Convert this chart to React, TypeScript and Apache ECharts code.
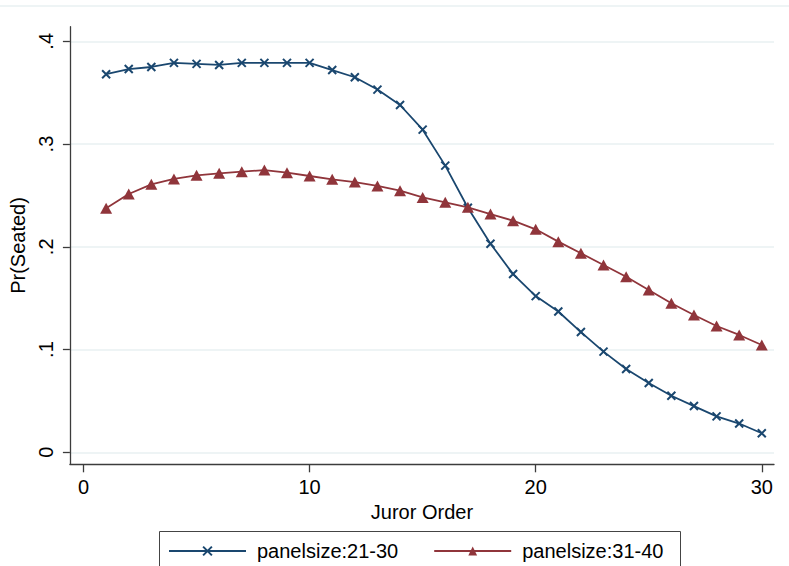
import React, { useEffect, useRef } from "react";
import * as echarts from "echarts";

const jurorOrder = [1, 2, 3, 4, 5, 6, 7, 8, 9, 10, 11, 12, 13, 14, 15, 16, 17, 18, 19, 20, 21, 22, 23, 24, 25, 26, 27, 28, 29, 30];
const panel2130 = [0.368, 0.373, 0.375, 0.379, 0.378, 0.377, 0.379, 0.379, 0.379, 0.379, 0.372, 0.365, 0.353, 0.338, 0.314, 0.279, 0.238, 0.203, 0.1735, 0.152, 0.137, 0.117, 0.098, 0.081, 0.0675, 0.055, 0.045, 0.035, 0.028, 0.0185];
const panel3140 = [0.2375, 0.2514, 0.2608, 0.266, 0.2696, 0.2715, 0.2731, 0.2747, 0.2721, 0.2689, 0.2657, 0.263, 0.2592, 0.2546, 0.248, 0.2433, 0.2384, 0.2319, 0.2254, 0.217, 0.205, 0.1937, 0.1823, 0.1709, 0.158, 0.145, 0.1336, 0.1229, 0.1142, 0.1044];
const xTicks = [0, 10, 20, 30];
const yTicks = [0, 0.1, 0.2, 0.3, 0.4];
const seriesNames = ["panelsize:21-30", "panelsize:31-40"];

const NAVY = "#1a476f";
const MAROON = "#90353b";
const AXIS = "#3c3c3c";
const GRID = "#e8f0f2";
const FONT = "'Liberation Sans', Arial, sans-serif";

const yFmt = (v: number) => {
  if (Math.abs(v) < 1e-9) return "0";
  return "." + Math.round(v * 10);
};

export default function App() {
  const ref = useRef<HTMLDivElement>(null);
  useEffect(() => {
    if (!ref.current) return;
    const chart = echarts.init(ref.current, undefined, { renderer: "svg" });
    const xSym = "path://M0,0L10,10M10,0L0,10";
    chart.setOption({
      animation: false,
      backgroundColor: "#ffffff",
      textStyle: { fontFamily: FONT },
      grid: { left: 65.3, top: 26.7, right: 15, bottom: 101.7, containLabel: false },
      xAxis: {
        type: "value",
        min: -0.602,
        max: 30.54,
        name: "Juror Order",
        nameLocation: "middle",
        nameGap: 33,
        nameTextStyle: { fontSize: 20, color: "#000", fontFamily: FONT },
        axisLine: { show: true, onZero: false, lineStyle: { color: AXIS, width: 1.3 } },
        axisTick: { show: true, customValues: xTicks, length: 8, lineStyle: { color: AXIS, width: 1.3 } },
        axisLabel: { customValues: xTicks, fontSize: 20, color: "#000", margin: 13, fontFamily: FONT },
        splitLine: { show: false },
      },
      yAxis: {
        type: "value",
        min: -0.01168,
        max: 0.4142,
        name: "Pr(Seated)",
        nameLocation: "middle",
        nameGap: 36,
        nameTextStyle: { fontSize: 20, color: "#000", fontFamily: FONT },
        axisLine: { show: true, onZero: false, lineStyle: { color: AXIS, width: 1.3 } },
        axisTick: { show: true, customValues: yTicks, length: 7, lineStyle: { color: AXIS, width: 1.3 } },
        axisLabel: {
          customValues: yTicks,
          rotate: 90,
          fontSize: 20,
          color: "#000",
          margin: 14,
          fontFamily: FONT,
          formatter: (v: number) => yFmt(v),
        },
        splitLine: { show: true, lineStyle: { color: GRID, width: 1.6 } },
      },
      legend: {
        left: 168,
        top: 541,
        padding: 0,
        itemWidth: 77,
        itemHeight: 11,
        itemGap: 35,
        textStyle: { fontSize: 20, color: "#000", fontFamily: FONT, padding: [0, 0, 0, 6], lineHeight: 20 },
        data: seriesNames,
      },
      graphic: [
        {
          type: "line",
          shape: { x1: 0, y1: 6, x2: 789, y2: 6 },
          style: { stroke: GRID, lineWidth: 1.5 },
          silent: true,
        },
        {
          type: "rect",
          shape: { x: 159.5, y: 531.5, width: 521, height: 60 },
          style: { fill: "none", stroke: "#444", lineWidth: 1 },
          silent: true,
        },
      ],
      series: [
        {
          name: seriesNames[0],
          type: "line",
          data: jurorOrder.map((x, i) => [x, panel2130[i]]),
          symbol: xSym,
          symbolSize: 8,
          showAllSymbol: true,
          lineStyle: { color: NAVY, width: 1.8 },
          itemStyle: { color: NAVY, borderColor: NAVY, borderWidth: 2 },
        },
        {
          name: seriesNames[1],
          type: "line",
          data: jurorOrder.map((x, i) => [x, panel3140[i]]),
          symbol: "triangle",
          symbolSize: [12, 11],
          showAllSymbol: true,
          lineStyle: { color: MAROON, width: 1.8 },
          itemStyle: { color: MAROON, borderWidth: 0 },
        },
      ],
    });
    return () => chart.dispose();
  }, []);
  return <div ref={ref} style={{ width: 789, height: 566, position: "absolute", left: 0, top: 0 }} />;
}
